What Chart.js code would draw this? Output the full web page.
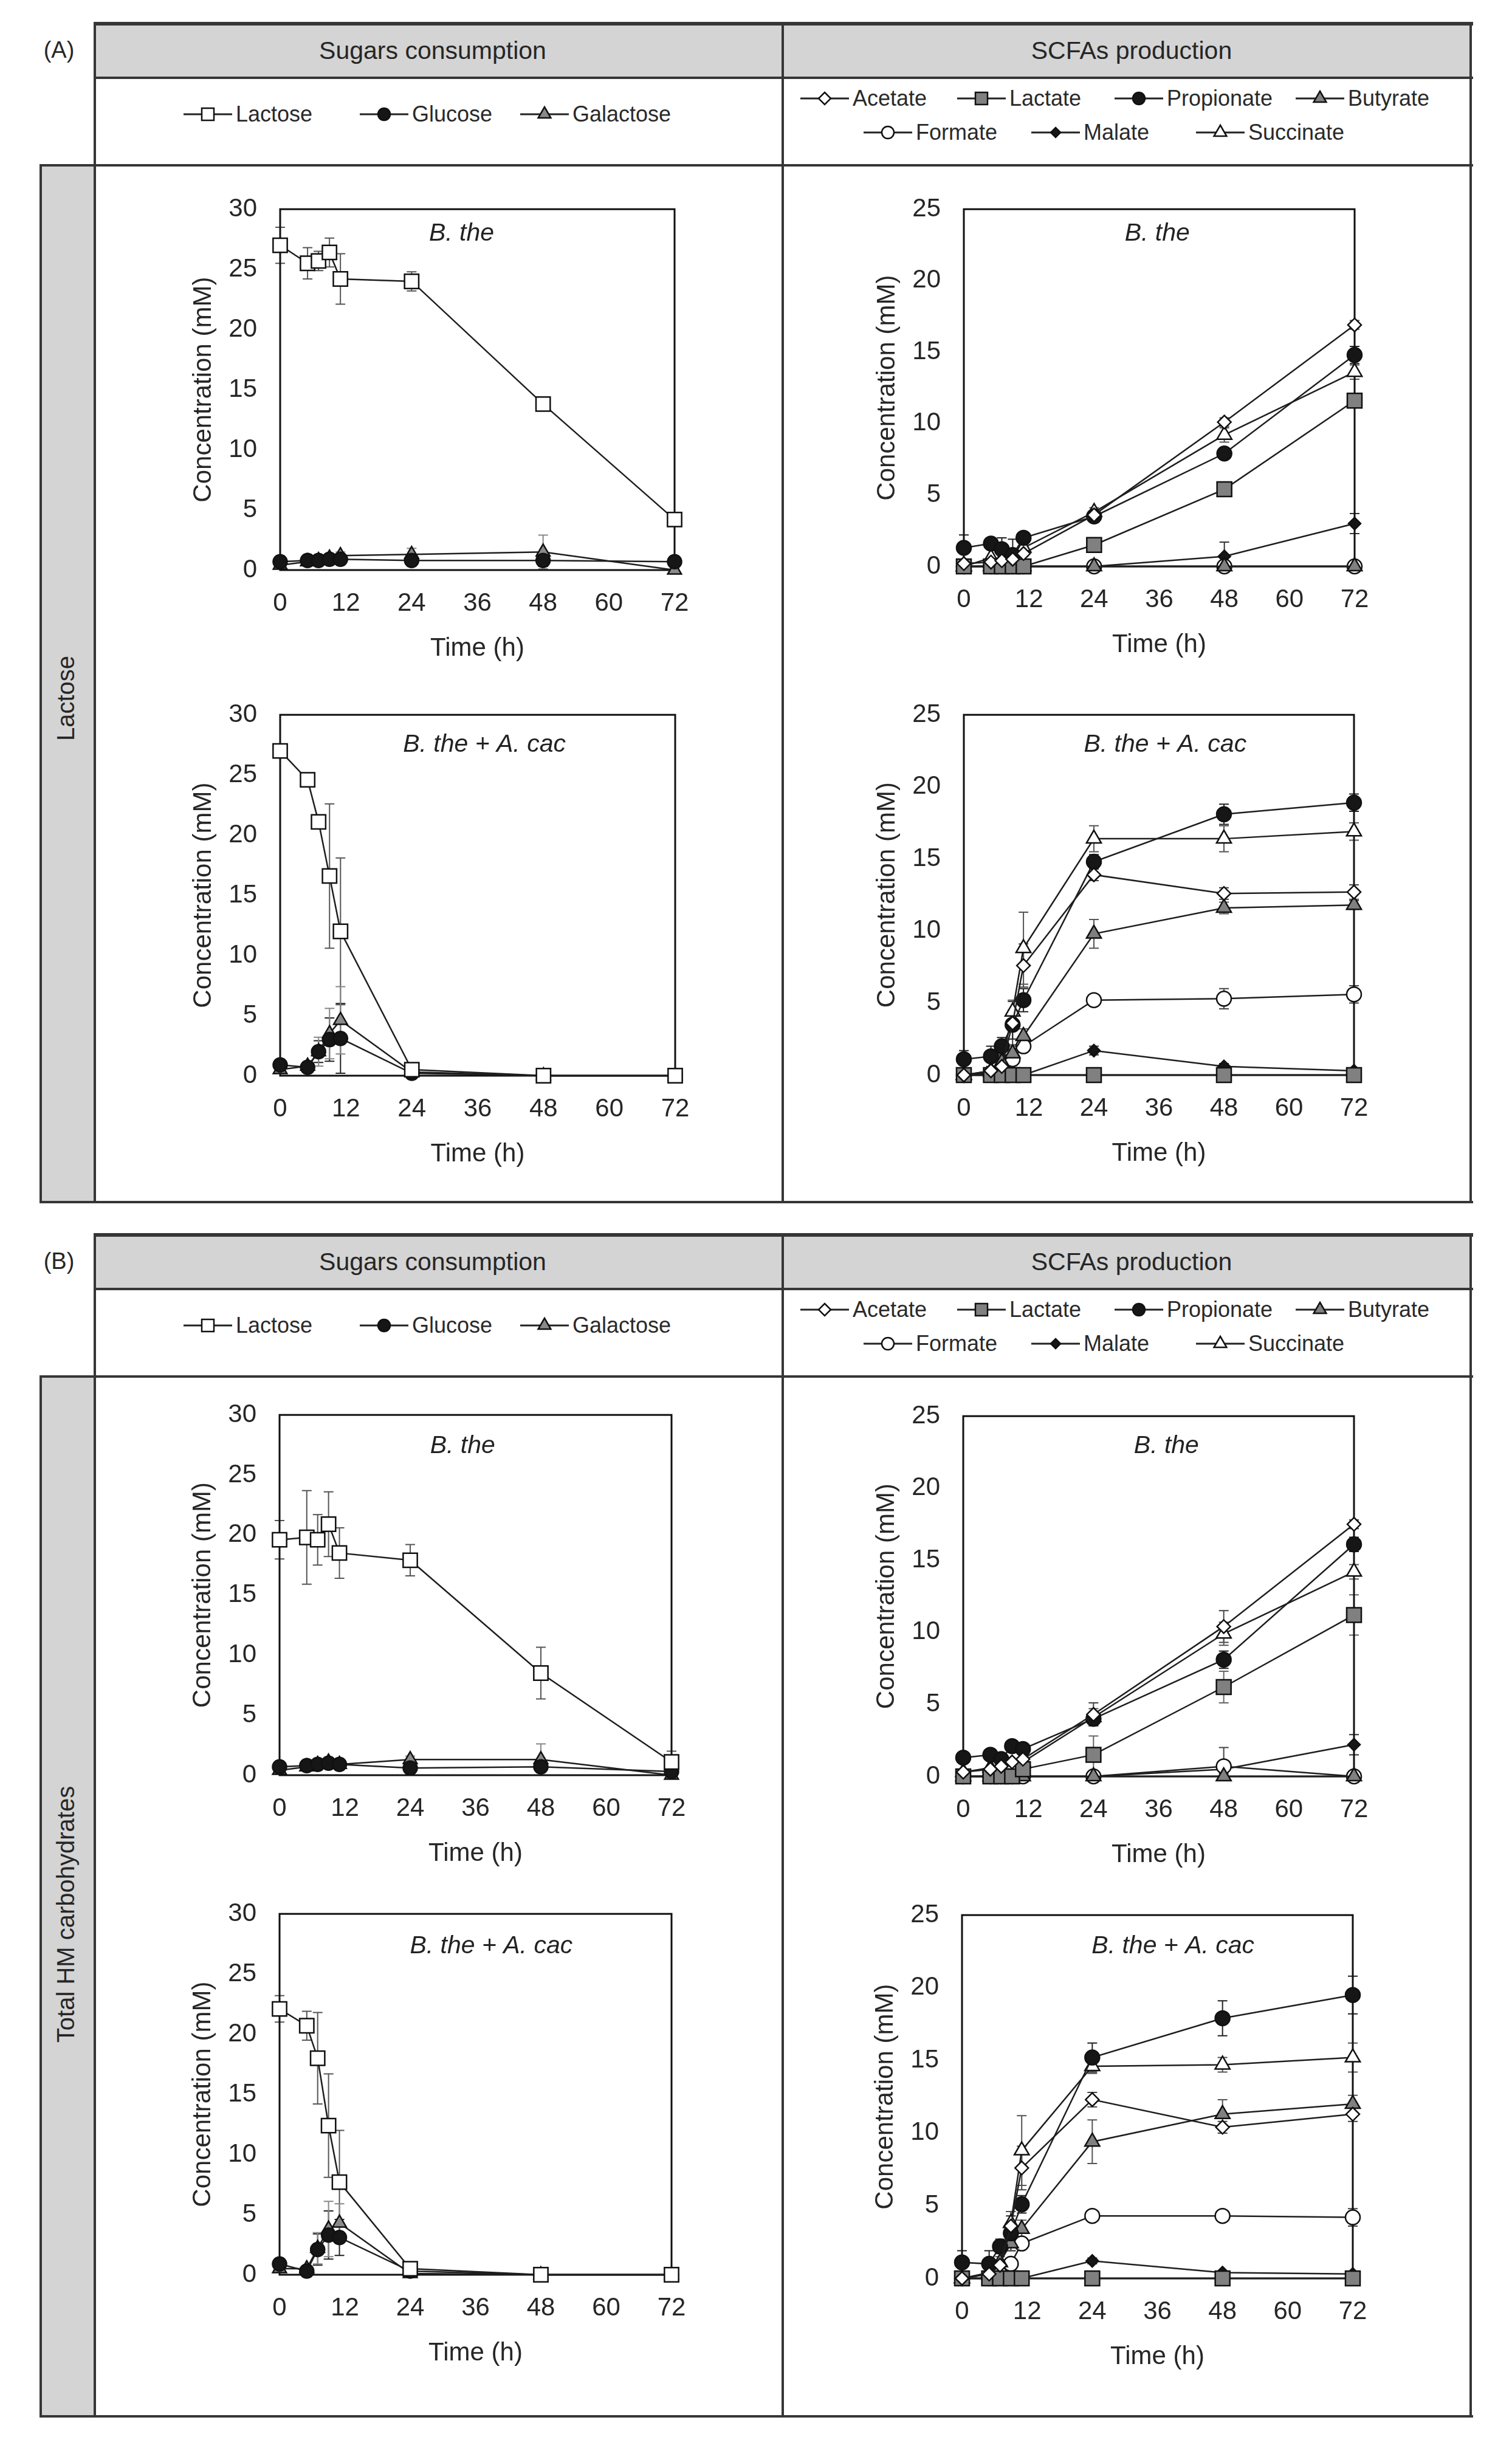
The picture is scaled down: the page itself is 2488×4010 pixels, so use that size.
<!DOCTYPE html>
<html>
<head>
<meta charset="utf-8">
<script src="https://cdn.jsdelivr.net/npm/chart.js@4.4.1/dist/chart.umd.min.js"></script>
<style>
  body { margin: 0; width: 2488px; height: 4010px; background: #fff; position: relative; overflow: hidden;
         font-family: "Liberation Sans", Arial, sans-serif; color: #262626; }
  .ln { position: absolute; background: #363636; }
  .fill { position: absolute; background: #d4d4d4; }
  .txt { position: absolute; white-space: nowrap; }
  .lg { position: absolute; display: flex; align-items: center; height: 40px; font-size: 36px; color: #2a2a2a; }
  .lg span { margin-left: 6px; }
  canvas { position: absolute; }
</style>
</head>
<body>
<script>
// ---- data ----
const times = [0, 5, 7, 9, 11, 24, 48, 72];
const timeTicks = [0, 12, 24, 36, 48, 60, 72];
const sugarTicks = [0, 5, 10, 15, 20, 25, 30];
const acidTicks = [0, 5, 10, 15, 20, 25];
const sugarNames = ['Lactose', 'Glucose', 'Galactose'];
const acidNames = ['Acetate', 'Lactate', 'Propionate', 'Butyrate', 'Formate', 'Malate', 'Succinate'];

// (A) lactose medium
const aSugarBthe = [
  [27.0, 25.5, 25.7, 26.4, 24.2, 24.0, 13.8, 4.2],
  [0.7, 0.8, 0.8, 0.9, 0.9, 0.8, 0.8, 0.7],
  [0.4, 0.7, 0.8, 1.0, 1.2, 1.3, 1.5, 0.0]
];
const aSugarBtheErr = [
  [1.5, 1.3, 0.8, 1.2, 2.1, 0.8, 0.3, 0.2],
  [0.2, 0.2, 0.2, 0.2, 0.2, 0.3, 0.5, 0.2],
  [0.2, 0.2, 0.2, 0.3, 0.3, 0.5, 1.4, 0.1]
];
const aSugarCo = [
  [27.0, 24.6, 21.1, 16.6, 12.0, 0.5, 0.0, 0.0],
  [0.9, 0.7, 2.0, 3.0, 3.1, 0.2, 0.0, 0.0],
  [0.5, 0.8, 2.0, 3.5, 4.6, 0.3, 0.0, 0.0]
];
const aSugarCoErr = [
  [0.3, 0.3, 0.3, 6.0, 6.1, 0.2, 0, 0],
  [0.2, 0.3, 0.9, 1.8, 2.9, 0.1, 0, 0],
  [0.2, 0.3, 1.2, 2.1, 2.8, 0.1, 0, 0]
];
const aAcidBthe = [
  [0.2, 0.3, 0.4, 0.5, 0.9, 3.6, 10.1, 16.9],
  [0, 0, 0, 0, 0, 1.5, 5.4, 11.6],
  [1.3, 1.6, 1.2, 0.8, 2.0, 3.5, 7.9, 14.8],
  [0, 0, 0, 0, 0, 0, 0, 0],
  [0, 0, 0, 0, 0, 0, 0, 0],
  [0, 0, 0, 0, 0, 0, 0.7, 3.0],
  [0, 0.6, 0.5, 0.6, 1.3, 3.8, 9.2, 13.6]
];
const aAcidBtheErr = [
  [0, 0, 0, 0, 0.2, 0.3, 0.3, 0.3],
  [0, 0, 0, 0, 0, 0.2, 0.3, 0.5],
  [0.9, 0.3, 0.8, 1.1, 0.3, 0.3, 0.4, 0.6],
  [0, 0, 0, 0, 0, 0, 0, 0],
  [0, 0, 0, 0, 0, 0, 0, 0],
  [0, 0, 0, 0, 0, 0, 1.0, 0.7],
  [0, 0, 0, 0, 0, 0.3, 0.5, 0.5]
];
const aAcidCo = [
  [0, 0.3, 0.6, 3.6, 7.6, 13.9, 12.6, 12.7],
  [0, 0, 0, 0, 0, 0, 0, 0],
  [1.1, 1.3, 2.0, 3.5, 5.2, 14.8, 18.1, 18.9],
  [0, 0.2, 0.9, 1.5, 2.7, 9.8, 11.6, 11.8],
  [0, 0.1, 0.4, 1.1, 2.0, 5.2, 5.3, 5.6],
  [0, 0, 0, 0, 0, 1.7, 0.6, 0.3],
  [0, 0.3, 0.8, 4.4, 8.8, 16.4, 16.4, 16.9]
];
const aAcidCoErr = [
  [0, 0, 0, 1.5, 1.5, 0.4, 0.4, 0.5],
  [0, 0, 0, 0, 0, 0, 0, 0],
  [0.6, 0.7, 0.6, 1.0, 0.8, 0.5, 0.7, 0.6],
  [0, 0, 0.4, 0.5, 0.5, 1.0, 0.4, 0.3],
  [0, 0, 0, 0, 0.3, 0.3, 0.7, 0.6],
  [0, 0, 0, 0, 0, 0.3, 0.2, 0.1],
  [0, 0, 0, 0.8, 2.5, 0.9, 0.9, 0.6]
];

// (B) total HM carbohydrates
const bSugarBthe = [
  [19.6, 19.8, 19.6, 20.9, 18.5, 17.9, 8.5, 1.1],
  [0.7, 0.8, 0.9, 1.0, 0.9, 0.6, 0.7, 0.3],
  [0.4, 0.7, 0.9, 1.1, 0.9, 1.3, 1.3, 0.0]
];
const bSugarBtheErr = [
  [1.6, 3.9, 2.1, 2.7, 2.1, 1.3, 2.15, 0.9],
  [0.2, 0.2, 0.2, 0.2, 0.2, 0.2, 0.3, 0.2],
  [0.2, 0.2, 0.2, 0.2, 0.2, 0.3, 1.3, 0.1]
];
const bSugarCo = [
  [22.1, 20.7, 18.0, 12.4, 7.7, 0.5, 0, 0],
  [0.9, 0.3, 2.1, 3.3, 3.1, 0.3, 0, 0],
  [0.5, 0.5, 2.2, 3.8, 4.3, 0.1, 0, 0]
];
const bSugarCoErr = [
  [1.1, 1.2, 3.8, 4.3, 4.3, 0.2, 0, 0],
  [0.3, 0.3, 1.3, 2.0, 1.5, 0.1, 0, 0],
  [0.2, 0.2, 1.3, 2.3, 1.6, 0.1, 0, 0]
];
const bAcidBthe = [
  [0.3, 0.5, 0.7, 1.0, 1.2, 4.3, 10.4, 17.5],
  [0, 0, 0, 0, 0.5, 1.5, 6.2, 11.2],
  [1.3, 1.5, 1.2, 2.1, 1.9, 4.0, 8.1, 16.1],
  [0, 0, 0, 0, 0, 0, 0, 0],
  [0, 0, 0, 0, 0, 0, 0.7, 0],
  [0, 0, 0, 0, 0, 0, 0.5, 2.2],
  [0.3, 0.6, 0.6, 0.8, 1.0, 4.1, 9.9, 14.2]
];
const bAcidBtheErr = [
  [0, 0, 0, 0, 0, 0.8, 1.1, 0.3],
  [0, 0, 0, 0, 0.2, 1.3, 1.1, 1.4],
  [0.2, 0.3, 0.4, 0.3, 0.3, 0.4, 0.6, 0.5],
  [0, 0, 0, 0, 0, 0, 0, 0],
  [0, 0, 0, 0, 0, 0, 1.3, 0],
  [0, 0, 0, 0, 0, 0, 0.3, 0.7],
  [0, 0, 0, 0, 0, 0.6, 0.8, 0.5]
];
const bAcidCo = [
  [0, 0.3, 0.9, 3.6, 7.6, 12.3, 10.4, 11.3],
  [0, 0, 0, 0, 0, 0, 0, 0],
  [1.1, 1.0, 2.2, 3.1, 5.1, 15.2, 17.9, 19.5],
  [0, 0.3, 1.1, 2.4, 3.4, 9.4, 11.3, 12.0],
  [0, 0, 0.3, 1.0, 2.4, 4.3, 4.3, 4.2],
  [0, 0, 0, 0, 0, 1.2, 0.4, 0.3],
  [0, 0.4, 1.0, 3.8, 8.8, 14.6, 14.7, 15.2]
];
const bAcidCoErr = [
  [0, 0, 0, 1.0, 1.5, 0.5, 0.4, 0.5],
  [0, 0, 0, 0, 0, 0, 0, 0],
  [0.8, 0.9, 0.5, 1.2, 0.6, 1.0, 1.2, 1.3],
  [0, 0, 0.4, 0.5, 0.6, 1.5, 1.0, 0.6],
  [0, 0, 0, 0, 0.3, 0.2, 0.3, 0.6],
  [0, 0, 0, 0, 0, 0.2, 0.1, 0.1],
  [0, 0, 0, 0.8, 2.4, 0.5, 0.5, 1.0]
];

// ---- looks ----
const family = '"Liberation Sans", Arial, sans-serif';
const ink = '#262626';
const sugarLook = [
  { shape: 'rect', r: 16.5, fill: '#ffffff', err: '#555' },
  { shape: 'circle', r: 11.5, fill: '#161616', err: '#222' },
  { shape: 'triangle', r: 13, fill: '#8a8a8a', err: '#888' }
];
const acidLook = [
  { shape: 'rectRot', r: 11, fill: '#ffffff', err: '#444' },
  { shape: 'rect', r: 17, fill: '#808080', err: '#666' },
  { shape: 'circle', r: 12, fill: '#161616', err: '#222' },
  { shape: 'triangle', r: 14, fill: '#808080', err: '#555' },
  { shape: 'circle', r: 12, fill: '#ffffff', err: '#444' },
  { shape: 'rectRot', r: 10, fill: '#161616', err: '#333' },
  { shape: 'triangle', r: 14, fill: '#ffffff', err: '#555' }
];

// frame, error bars and italic caption inside the plot
const panelDeco = {
  id: 'panelDeco',
  beforeDatasetsDraw(chart, args, opts) {
    const { ctx, chartArea: a, scales: { x, y } } = chart;
    ctx.save();
    chart.data.datasets.forEach(ds => {
      ctx.strokeStyle = ds.errColor;
      ctx.lineWidth = 2;
      ds.data.forEach((p, j) => {
        const e = ds.errors[j];
        if (!e) return;
        const px = x.getPixelForValue(p.x);
        const hi = y.getPixelForValue(p.y + e);
        const lo = y.getPixelForValue(Math.max(0, p.y - e));
        ctx.beginPath();
        ctx.moveTo(px, hi); ctx.lineTo(px, lo);
        ctx.moveTo(px - 8, hi); ctx.lineTo(px + 8, hi);
        if (p.y - e > 0) { ctx.moveTo(px - 8, lo); ctx.lineTo(px + 8, lo); }
        ctx.stroke();
      });
    });
    ctx.strokeStyle = '#111';
    ctx.lineWidth = 3;
    ctx.strokeRect(a.left, a.top, a.right - a.left, a.bottom - a.top);
    ctx.font = 'italic 41px ' + family;
    ctx.fillStyle = '#222';
    ctx.textAlign = 'center';
    ctx.textBaseline = 'middle';
    ctx.fillText(opts.caption, a.left + (a.right - a.left) * opts.capX, a.top + opts.capY);
    ctx.restore();
  }
};

function makeChart(box, names, looks, values, errors, yTicks, caption, capX, capY) {
  const [L, T, R, B] = box;
  const cv = document.createElement('canvas');
  const w = R - L + 260, h = B - T + 250;
  cv.width = w; cv.height = h;
  cv.style.left = (L - 200) + 'px';
  cv.style.top = (T - 60) + 'px';
  cv.style.width = w + 'px';
  cv.style.height = h + 'px';
  document.body.appendChild(cv);
  const tickFont = { size: 42, family: family };
  new Chart(cv, {
    type: 'line',
    data: {
      datasets: names.map((n, i) => ({
        label: n,
        data: times.map((t, j) => ({ x: t, y: values[i][j] })),
        errors: errors[i],
        errColor: looks[i].err,
        borderColor: '#1e1e1e',
        borderWidth: 2.5,
        pointStyle: looks[i].shape,
        pointRadius: looks[i].r,
        pointHoverRadius: looks[i].r,
        pointBackgroundColor: looks[i].fill,
        pointBorderColor: '#111',
        pointBorderWidth: 2.5,
        tension: 0,
        clip: false
      }))
    },
    options: {
      responsive: false,
      animation: false,
      devicePixelRatio: 1,
      layout: { padding: { left: 49, top: 60, right: 60, bottom: 35 } },
      plugins: {
        legend: { display: false },
        tooltip: { enabled: false },
        panelDeco: { caption: caption, capX: capX, capY: capY }
      },
      scales: {
        x: {
          type: 'linear', min: 0, max: 72,
          afterBuildTicks: s => { s.ticks = timeTicks.map(v => ({ value: v })); },
          afterFit: s => { s.height = 155; },
          ticks: { font: tickFont, color: ink, padding: 30, maxRotation: 0, autoSkip: false },
          grid: { display: false, drawTicks: false },
          border: { display: false },
          title: { display: true, text: 'Time (h)', font: tickFont, color: ink, padding: 0 }
        },
        y: {
          type: 'linear', min: 0, max: yTicks[yTicks.length - 1],
          afterBuildTicks: s => { s.ticks = yTicks.map(v => ({ value: v })); },
          afterFit: s => { s.width = 151; },
          ticks: { font: tickFont, color: ink, padding: 38, autoSkip: false },
          grid: { display: false, drawTicks: false },
          border: { display: false },
          title: { display: true, text: 'Concentration (mM)', font: tickFont, color: ink, padding: 0 }
        }
      }
    },
    plugins: [panelDeco]
  });
}

// ---- table layout ----
function div(cls, x, y, w, h) {
  const d = document.createElement('div');
  d.className = cls;
  d.style.cssText = `left:${x}px;top:${y}px;width:${w}px;height:${h}px`;
  document.body.appendChild(d);
  return d;
}
function text(str, cx, cy, size, rotate) {
  const d = document.createElement('div');
  d.className = 'txt';
  d.textContent = str;
  d.style.fontSize = size + 'px';
  d.style.left = cx + 'px';
  d.style.top = cy + 'px';
  d.style.transform = 'translate(-50%,-50%)' + (rotate ? ' rotate(-90deg)' : '');
  document.body.appendChild(d);
}
function markerSvg(look) {
  const c = 40, m = 20;
  let s = '';
  const st = `fill="${look.fill}" stroke="#111" stroke-width="2.5"`;
  if (look.shape === 'rect') s = `<rect x="${c - 10}" y="${m - 10}" width="20" height="20" ${st}/>`;
  else if (look.shape === 'circle') s = `<circle cx="${c}" cy="${m}" r="10" ${st}/>`;
  else if (look.shape === 'triangle') s = `<polygon points="${c},${m - 12} ${c + 10.4},${m + 6} ${c - 10.4},${m + 6}" ${st}/>`;
  else {
    const r = look.r < 11 ? 8 : 10;
    s = `<polygon points="${c},${m - r} ${c + r},${m} ${c},${m + r} ${c - r},${m}" ${st}/>`;
  }
  return `<svg width="80" height="40"><line x1="0" y1="20" x2="80" y2="20" stroke="#222" stroke-width="3"/>${s}</svg>`;
}
function legendItem(x, y, name, look) {
  const d = document.createElement('div');
  d.className = 'lg';
  d.style.left = x + 'px';
  d.style.top = (y - 20) + 'px';
  d.innerHTML = markerSvg(look) + `<span>${name}</span>`;
  document.body.appendChild(d);
}

function section(label, top, rowTop, rowBottom, sideLabel, sideY) {
  const off = top - 38;
  div('fill', 156, top, 2264, 90);
  div('fill', 67, rowTop, 89, rowBottom - rowTop);
  // horizontal lines
  div('ln', 156, top - 2, 2268, 6);
  div('ln', 156, top + 88, 2268, 4);
  div('ln', 67, rowTop - 2, 2357, 4);
  div('ln', 67, rowBottom - 2, 2357, 4);
  // vertical lines
  div('ln', 65, rowTop - 2, 4, rowBottom - rowTop + 4);
  div('ln', 154, top - 2, 4, rowBottom - top + 4);
  div('ln', 1286, top - 2, 4, rowBottom - top + 4);
  div('ln', 2418, top - 2, 4, rowBottom - top + 4);
  text(label, 97, 82 + off, 38);
  text('Sugars  consumption', 712, 83 + off, 41);
  text('SCFAs production', 1862, 83 + off, 41);
  text(sideLabel, 108, sideY, 40, true);
  [[302, 0], [592, 1], [856, 2]].forEach(([x, i]) => legendItem(x, 188 + off, sugarNames[i], sugarLook[i]));
  [[1317, 0], [1575, 1], [1834, 2], [2132, 3]].forEach(([x, i]) => legendItem(x, 162 + off, acidNames[i], acidLook[i]));
  [[1421, 4], [1697, 5], [1968, 6]].forEach(([x, i]) => legendItem(x, 218 + off, acidNames[i], acidLook[i]));
}

section('(A)', 38, 272, 1978, 'Lactose', 1149);
section('(B)', 2031, 2265, 3976, 'Total HM carbohydrates', 3150);

makeChart([461, 341, 1110, 938], sugarNames, sugarLook, aSugarBthe, aSugarBtheErr, sugarTicks, 'B. the', 0.46, 40);
makeChart([1586, 341, 2229, 932], acidNames, acidLook, aAcidBthe, aAcidBtheErr, acidTicks, 'B. the', 0.495, 40);
makeChart([461, 1173, 1111, 1770], sugarNames, sugarLook, aSugarCo, aSugarCoErr, sugarTicks, 'B. the + A. cac', 0.517, 49);
makeChart([1586, 1173, 2228, 1769], acidNames, acidLook, aAcidCo, aAcidCoErr, acidTicks, 'B. the + A. cac', 0.516, 49);
makeChart([460, 2325, 1105, 2921], sugarNames, sugarLook, bSugarBthe, bSugarBtheErr, sugarTicks, 'B. the', 0.467, 51);
makeChart([1585, 2327, 2228, 2923], acidNames, acidLook, bAcidBthe, bAcidBtheErr, acidTicks, 'B. the', 0.52, 49);
makeChart([460, 3146, 1105, 3743], sugarNames, sugarLook, bSugarCo, bSugarCoErr, sugarTicks, 'B. the + A. cac', 0.54, 53);
makeChart([1583, 3148, 2226, 3749], acidNames, acidLook, bAcidCo, bAcidCoErr, acidTicks, 'B. the + A. cac', 0.54, 51);
</script>
</body>
</html>
